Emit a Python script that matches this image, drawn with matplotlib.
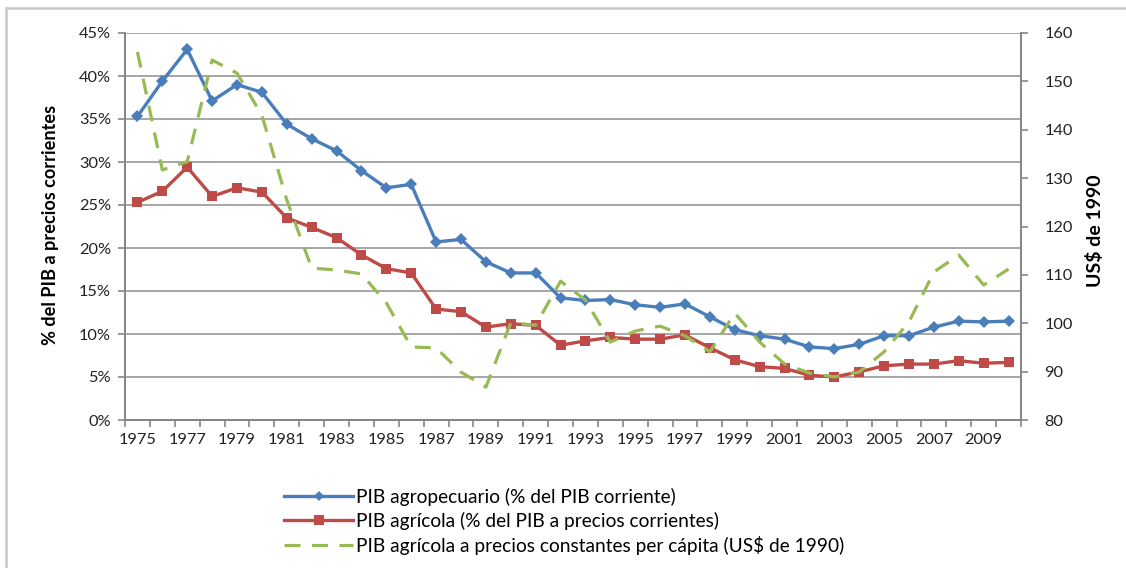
import matplotlib
matplotlib.use("Agg")
import matplotlib.pyplot as plt
from matplotlib.lines import Line2D
from matplotlib.ticker import FixedLocator, FuncFormatter

years = list(range(1975, 2011))

pib_agropecuario = [35.3, 39.4, 43.1, 37.1, 39.0, 38.1, 34.4, 32.7, 31.3, 29.0,
                    27.0, 27.4, 20.7, 21.0, 18.4, 17.1, 17.1, 14.2, 13.9, 14.0,
                    13.4, 13.1, 13.5, 12.0, 10.5, 9.8, 9.4, 8.5, 8.3, 8.8,
                    9.8, 9.8, 10.8, 11.5, 11.4, 11.5]

pib_agricola = [25.3, 26.6, 29.4, 26.0, 27.0, 26.5, 23.5, 22.4, 21.2, 19.2,
                17.6, 17.1, 12.9, 12.6, 10.8, 11.2, 11.0, 8.7, 9.2, 9.6,
                9.4, 9.4, 9.9, 8.4, 7.0, 6.2, 6.0, 5.2, 5.0, 5.6,
                6.3, 6.5, 6.5, 6.9, 6.6, 6.7]

pib_constante_pc = [156.1, 131.7, 133.4, 154.4, 151.7, 143.0, 125.5, 111.4, 111.0, 110.2,
                    104.2, 95.1, 94.9, 89.9, 86.8, 100.1, 99.6, 108.7, 104.8, 96.1,
                    98.4, 99.4, 97.4, 94.1, 102.1, 96.1, 91.6, 89.7, 88.9, 89.9,
                    94.1, 100.3, 110.6, 114.1, 107.9, 111.2]

label_agro = "PIB agropecuario (% del PIB corriente)"
label_agri = "PIB agrícola (% del PIB a precios corrientes)"
label_const = "PIB agrícola a precios constantes per cápita (US$ de 1990)"
ylabel_left = "% del PIB a precios corrientes"
ylabel_right = "US$ de 1990"

BLUE = "#4A7EBB"
RED = "#BE4B48"
GREEN = "#98B954"
AXC = "#868686"
GRID = "#A6A6A6"
FONT = "Lato"

plt.rcParams['font.family'] = [FONT, 'DejaVu Sans']

fig = plt.figure(figsize=(11.26, 5.68), dpi=100)
ax = fig.add_axes([125/1126, 1-420/568, (1021-125)/1126, (420-33)/568])
ax2 = ax.twinx()

x = list(range(len(years)))
ax.plot(x, pib_agropecuario, color=BLUE, lw=2.4, marker='D', ms=6.5,
        markeredgewidth=0, label=label_agro, zorder=3)
ax.plot(x, pib_agricola, color=RED, lw=2.4, marker='s', ms=7,
        markeredgewidth=0, label=label_agri, zorder=3)
ax2.plot(x, pib_constante_pc, color=GREEN, lw=2.3, dashes=(5, 3.6),
         label=label_const, zorder=4)

ax.set_xlim(-0.5, len(years) - 0.5)
ax.set_ylim(0, 45)
ax2.set_ylim(80, 160)

ax.yaxis.set_major_locator(FixedLocator([0, 5, 10, 15, 20, 25, 30, 35, 40, 45]))
ax.yaxis.set_major_formatter(FuncFormatter(lambda v, p: f"{int(round(v))}%"))
ax2.yaxis.set_major_locator(FixedLocator(list(range(80, 161, 10))))

ax.set_xticks([i for i in x if (years[i] - 1975) % 2 == 0])
ax.set_xticklabels([str(years[i]) for i in x if (years[i] - 1975) % 2 == 0])
ax.set_xticks([i - 0.5 for i in range(len(years) + 1)], minor=True)
ax.tick_params(axis='x', which='major', length=0, pad=9, labelsize=11.8, labelcolor='#222222')
ax.tick_params(axis='x', which='minor', length=5, width=1.2, color=AXC, direction='out')
ax.tick_params(axis='y', length=5, width=1.2, color=AXC, direction='out', pad=5,
               labelsize=11.8, labelcolor='#222222')
ax2.tick_params(axis='y', length=5, width=1.2, color=AXC, direction='out', pad=12,
                labelsize=11.8, labelcolor='#222222')

ax.grid(axis='y', color=GRID, lw=1.4, zorder=0)
ax.set_axisbelow(True)
for a in (ax, ax2):
    a.spines['top'].set_visible(False)
    for s in ('left', 'right', 'bottom'):
        a.spines[s].set_color(AXC)
        a.spines[s].set_linewidth(1.3)

ax.set_ylabel(ylabel_left, fontsize=13.1, fontweight='bold')
ax.yaxis.set_label_coords(-0.074, 0.503)
ax2.set_ylabel(ylabel_right, fontsize=14.0, fontweight='bold')
ax2.yaxis.set_label_coords(1.072, 0.488)

handles = [
    Line2D([], [], color=BLUE, lw=2.4, marker='D', ms=5, markeredgewidth=0),
    Line2D([], [], color=RED, lw=2.4, marker='s', ms=7, markeredgewidth=0),
    Line2D([], [], color=GREEN, lw=2.3, dashes=(5, 3.6)),
]
fig.legend(handles, [label_agro, label_agri, label_const],
           loc='upper left', bbox_to_anchor=(284/1126, 1-488/568),
           frameon=False, fontsize=13.8, handlelength=3.6, handletextpad=0.18,
           labelspacing=0.3, borderpad=0, borderaxespad=0)

# chart frame
fig.add_artist(Line2D([6/1126, 6/1126], [0, 1-8/568], color='#C8C8C8', lw=1.8))
fig.add_artist(Line2D([6/1126, 1], [1-8/568, 1-8/568], color='#C8C8C8', lw=1.8))

fig.savefig("out.png", dpi=100)
